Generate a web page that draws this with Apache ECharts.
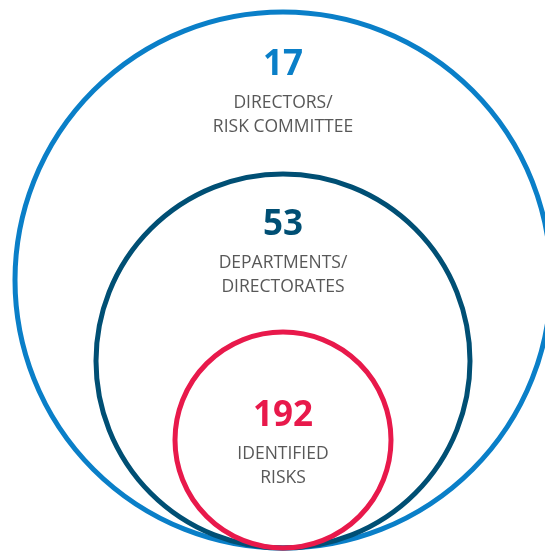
<!DOCTYPE html>
<html>
<head>
<meta charset="utf-8">
<script src="https://cdn.jsdelivr.net/npm/echarts@6/dist/echarts.min.js"></script>
<style>
  html, body { margin: 0; padding: 0; background: #fff; }
  #chart-container { width: 545px; height: 552px; }
</style>
</head>
<body>
<div id="chart-container"></div>
<script>
// Nested levels, outermost first
const counts = ["17", "53", "192"];
const labels = ["DIRECTORS/\nRISK COMMITTEE", "DEPARTMENTS/\nDIRECTORATES", "IDENTIFIED\nRISKS"];
const ringRadius = [268, 187, 108]; // circle sizes, in chart units

const ringColors = ["#0a7fc8", "#004f74", "#e8194b"];
const numberOffset = [53, 51, 84]; // distance from circle top to number centre
const baseX = 283;
const baseY = 548; // all circles touch at the bottom

const chart = echarts.init(document.getElementById("chart-container"));

const seriesData = ringRadius.map((r, i) => [baseX, baseY - r, r, i]);

const option = {
  animation: false,
  grid: { left: 0, right: 0, top: 0, bottom: 0 },
  xAxis: { type: "value", min: 0, max: 545, show: false },
  yAxis: { type: "value", min: 0, max: 552, inverse: true, show: false },
  series: [
    {
      type: "custom",
      clip: false,
      data: seriesData,
      renderItem: (params, api) => {
        const i = api.value(3);
        const r = api.value(2);
        const center = api.coord([api.value(0), api.value(1)]);
        const rad = api.size([r, r])[0];
        const top = api.coord([api.value(0), api.value(1) - r]);
        const numY = top[1] + numberOffset[i];
        return {
          type: "group",
          children: [
            {
              type: "circle",
              shape: { cx: center[0], cy: center[1], r: rad },
              style: { fill: "none", stroke: ringColors[i], lineWidth: 5 },
            },
            {
              type: "text",
              x: center[0],
              y: numY,
              style: {
                text: counts[i],
                fill: ringColors[i],
                font: "bold 35px 'Open Sans', sans-serif",
                align: "center",
                verticalAlign: "middle",
              },
            },
            {
              type: "text",
              x: center[0],
              y: numY + 50,
              style: {
                text: labels[i],
                fill: "#585858",
                font: "17.5px 'Open Sans', sans-serif",
                lineHeight: 24,
                align: "center",
                verticalAlign: "middle",
              },
            },
          ],
        };
      },
    },
  ],
};

chart.setOption(option);
</script>
</body>
</html>
